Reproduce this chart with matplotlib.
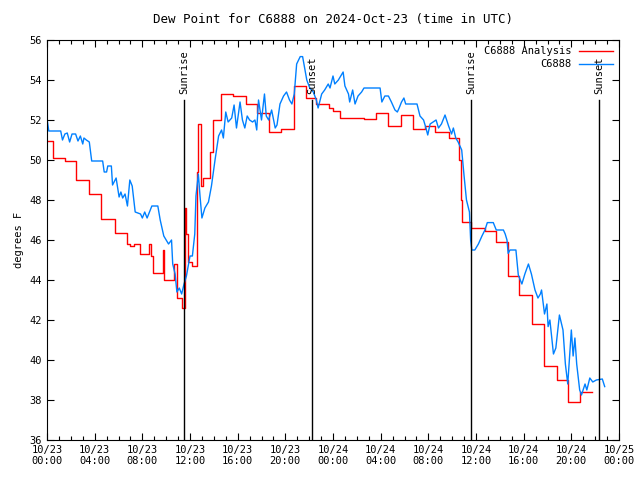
import matplotlib
matplotlib.use("Agg")
import matplotlib.pyplot as plt
from matplotlib.ticker import MultipleLocator

# hours since 2024-10-23 00:00 UTC
analysis_hours = [0.0, 0.48, 1.5, 2.4, 3.55, 4.5, 5.7, 6.7, 7.0, 7.3, 7.8, 8.6, 8.7, 8.9,
                  9.7, 9.8, 10.65, 10.9, 11.3, 11.55, 11.65, 11.8, 12.2, 12.56, 12.7,
                  12.9, 13.1, 13.7, 13.95, 14.6, 15.6, 16.7, 17.65, 18.6, 19.6, 20.7,
                  21.7, 22.6, 23.7, 24.0, 24.6, 26.6, 27.6, 28.6, 29.7, 30.7, 31.7,
                  32.6, 33.7, 34.6, 34.7, 34.8, 35.6, 36.75, 37.7, 38.7, 39.6, 40.7,
                  41.7, 42.8, 43.75, 44.7, 45.7]
analysis_vals = [50.95, 50.1, 49.95, 49.0, 48.3, 47.05, 46.35, 45.8, 45.7, 45.8, 45.3, 45.8,
                 45.2, 44.35, 45.5, 44.0, 44.8, 43.1, 42.6, 47.6, 46.3, 44.9, 44.7, 49.4,
                 51.8, 48.7, 49.1, 50.4, 52.0, 53.3, 53.2, 52.8, 52.35, 51.4, 51.55, 53.7,
                 53.1, 52.8, 52.6, 52.45, 52.1, 52.05, 52.35, 51.7, 52.25, 51.55, 51.7,
                 51.4, 51.1, 50.0, 48.0, 46.9, 46.6, 46.45, 45.9, 44.2, 43.25, 41.8,
                 39.7, 39.0, 37.9, 38.4, 38.4]

obs_hours = [0.0, 0.15, 1.15, 1.3, 1.5, 1.7, 1.9, 2.1, 2.4, 2.6, 2.8, 3.0, 3.1, 3.3, 3.55,
             3.75, 4.67, 4.8, 5.0, 5.1, 5.4, 5.5, 5.8, 6.05, 6.2, 6.35, 6.55, 6.75, 6.95,
             7.15, 7.4, 7.85, 8.0, 8.2, 8.4, 8.8, 9.3, 9.5, 9.8, 10.2, 10.45, 10.55, 10.75,
             10.9, 11.1, 11.3, 11.5, 11.7, 12.0, 12.2, 12.4, 12.5, 12.7, 12.84, 13.0,
             13.25, 13.55, 13.8, 14.1, 14.4, 14.65, 14.8, 15.0, 15.2, 15.5, 15.7, 15.9,
             16.2, 16.4, 16.6, 16.8, 17.0, 17.25, 17.45, 17.6, 17.75, 18.0, 18.25, 18.4,
             18.6, 18.85, 19.15, 19.3, 19.55, 19.85, 20.1, 20.35, 20.55, 20.75, 20.95,
             21.25, 21.45, 21.65, 21.8, 22.05, 22.35, 22.6, 22.75, 23.05, 23.3, 23.6,
             23.75, 24.0, 24.15, 24.45, 24.65, 24.85, 25.0, 25.3, 25.4, 25.65, 25.85,
             26.1, 26.4, 26.6, 27.95, 28.1, 28.35, 28.65, 28.9, 29.2, 29.4, 29.55, 29.75,
             29.95, 30.1, 31.05, 31.3, 31.6, 31.8, 31.95, 32.15, 32.4, 32.65, 32.85,
             33.1, 33.4, 33.7, 33.95, 34.1, 34.3, 34.5, 34.8, 35.0, 35.2, 35.45, 35.55,
             35.65, 35.9, 36.2, 36.5, 36.75, 36.95, 37.45, 37.7, 38.3, 38.45, 38.6,
             38.7, 38.85, 39.35, 39.55, 39.85, 40.1, 40.4, 40.65, 40.95, 41.2, 41.4,
             41.5, 41.75, 41.95, 42.05, 42.2, 42.5, 42.7, 43.0, 43.3, 43.5, 43.7, 44.0,
             44.15, 44.3, 44.45, 44.7, 44.85, 45.15, 45.3, 45.55, 45.8, 46.1, 46.6, 46.8]
obs_vals = [52.08, 51.45, 51.45, 51.0, 51.3, 51.35, 50.9, 51.3, 51.3, 50.95, 51.2, 50.8, 51.1,
            51.0, 50.9, 49.95, 49.95, 49.4, 49.4, 49.7, 49.7, 48.75, 49.1, 48.15, 48.4,
            48.1, 48.3, 47.7, 49.0, 48.7, 47.4, 47.3, 47.1, 47.4, 47.1, 47.7, 47.7, 47.0,
            46.2, 45.8, 46.0, 44.8, 44.3, 43.4, 43.6, 43.3, 43.8, 44.2, 45.2, 45.2, 46.3,
            48.2, 49.3, 48.2, 47.1, 47.6, 47.9, 48.7, 50.0, 51.2, 51.5, 51.1, 52.4, 51.9,
            52.1, 52.75, 51.6, 52.9, 52.0, 51.6, 52.2, 52.0, 51.9, 52.0, 51.5, 53.0, 52.0,
            53.3, 52.2, 52.0, 52.5, 51.6, 51.75, 52.8, 53.2, 53.4, 53.0, 52.8, 53.3, 54.8,
            55.17, 55.17, 54.5, 54.0, 53.6, 53.4, 53.0, 52.6, 53.3, 53.5, 53.8, 53.6, 54.2,
            53.8, 54.0, 54.2, 54.4, 53.7, 53.3, 52.9, 53.5, 52.8, 53.2, 53.4, 53.6, 53.6,
            52.9, 53.2, 53.2, 52.9, 52.5, 52.4, 52.6, 52.9, 53.1, 52.8, 52.8, 52.2, 52.0,
            51.6, 51.25, 51.8, 51.9, 52.0, 51.6, 51.8, 52.25, 51.7, 51.3, 51.6, 51.1,
            50.9, 50.5, 49.2, 48.0, 47.4, 46.0, 45.5, 45.5, 45.8, 46.2, 46.5, 46.87,
            46.87, 46.5, 46.5, 46.3, 46.0, 45.33, 45.5, 45.5, 44.25, 43.8, 44.3, 44.8,
            44.3, 43.5, 43.1, 43.3, 43.5, 42.3, 42.8, 41.67, 42.0, 40.3, 40.6, 42.25,
            41.5, 39.8, 38.8, 41.5, 40.2, 41.1, 39.8, 38.5, 38.25, 38.8, 38.5, 39.1,
            38.9, 39.0, 39.05, 38.67]

sun_events = ['Sunrise', 'Sunset', 'Sunrise', 'Sunset']
sun_hours = [11.5, 22.24, 35.58, 46.32]

tick_hours = list(range(0, 49, 4))
tick_labels = ['10/23\n00:00', '10/23\n04:00', '10/23\n08:00', '10/23\n12:00',
               '10/23\n16:00', '10/23\n20:00', '10/24\n00:00', '10/24\n04:00',
               '10/24\n08:00', '10/24\n12:00', '10/24\n16:00', '10/24\n20:00',
               '10/25\n00:00']

plt.rcParams['font.family'] = ['DejaVu Sans Mono']
plt.rcParams['font.size'] = 7.5

fig = plt.figure(figsize=(6.4, 4.8), dpi=100)
ax = fig.add_axes([47 / 640, 40 / 480, 572 / 640, 400 / 480])

ax.plot(analysis_hours, analysis_vals, color='#ff0000', lw=1, drawstyle='steps-post',
        label='C6888 Analysis')
ax.plot(obs_hours, obs_vals, color='#0080ff', lw=1, label='C6888')

for name, h in zip(sun_events, sun_hours):
    ax.plot([h, h], [36, 53], color='black', lw=1)
    ax.text(h, 53.3, name, rotation=90, ha='center', va='bottom')

ax.set_xlim(0, 48)
ax.set_ylim(36, 56)
ax.set_xticks(tick_hours)
ax.set_xticklabels(tick_labels)
ax.xaxis.set_minor_locator(MultipleLocator(1))
ax.yaxis.set_major_locator(MultipleLocator(2))
ax.tick_params(which='both', direction='in', top=True, right=True, length=5, width=0.8)
ax.tick_params(which='minor', length=3)
ax.set_ylabel('degrees F')
ax.set_title('Dew Point for C6888 on 2024-Oct-23 (time in UTC)', pad=12)

ax.legend(loc='upper right', frameon=False, markerfirst=False, handlelength=3.2,
          borderaxespad=0.2, labelspacing=0.3)

fig.savefig('out.png', dpi=100)
